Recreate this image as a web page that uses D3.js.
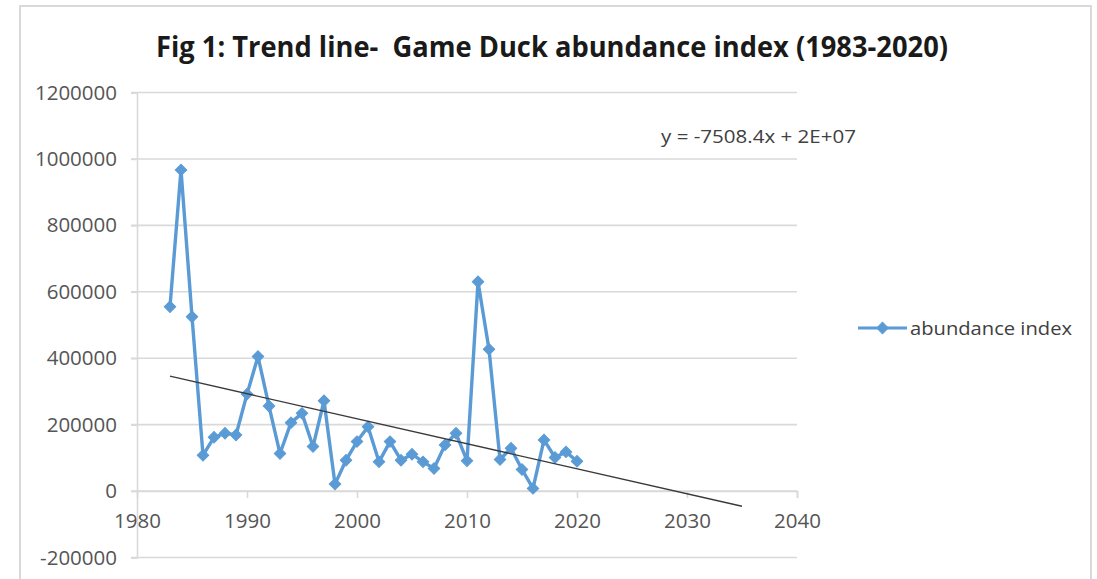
<!DOCTYPE html>
<html>
<head>
<meta charset="utf-8">
<script src="https://cdn.jsdelivr.net/npm/d3@7/dist/d3.min.js"></script>
<style>
  html, body { margin: 0; padding: 0; background: #ffffff; }
  svg { display: block; }
  text { font-family: "Open Sans", "Liberation Sans", sans-serif; }
</style>
</head>
<body>
<svg id="chart" width="1097" height="579"></svg>
<script>
// ---------- data ----------
const years = [1983, 1984, 1985, 1986, 1987, 1988, 1989, 1990, 1991, 1992,
               1993, 1994, 1995, 1996, 1997, 1998, 1999, 2000, 2001, 2002,
               2003, 2004, 2005, 2006, 2007, 2008, 2009, 2010, 2011, 2012,
               2013, 2014, 2015, 2016, 2017, 2018, 2019, 2020];
const abundance = [555000, 967000, 525000, 108000, 162000, 174000, 169000, 292000, 405000, 256000,
                   113000, 206000, 234000, 134000, 272000, 21000, 93000, 149000, 194000, 88000,
                   149000, 93000, 111000, 88000, 68000, 139000, 174000, 91000, 630000, 427000,
                   95000, 129000, 65000, 8000, 154000, 101000, 118000, 90000];
const xTicks = [1980, 1990, 2000, 2010, 2020, 2030, 2040];
const yTicks = [-200000, 0, 200000, 400000, 600000, 800000, 1000000, 1200000];
const trendFrom = 1983, trendTo = 2035;
const titleText = "Fig 1: Trend line-  Game Duck abundance index (1983-2020)";
const equationText = "y = -7508.4x + 2E+07";
const seriesName = "abundance index";

// ---------- layout ----------
const svg = d3.select("#chart");
const plot = { left: 137, right: 797, top: 92.5, bottom: 557.5 };
const x = d3.scaleLinear().domain([1980, 2040]).range([plot.left, plot.right]);
const y = d3.scaleLinear().domain([-200000, 1200000]).range([plot.bottom, plot.top]);

const blue = "#5b9bd5";
const grid = "#d9d9d9";
const labelColor = "#555555";
const plainFmt = d => String(d);

// outer chart border
svg.append("rect")
  .attr("x", 20).attr("y", 6).attr("width", 1071).attr("height", 600)
  .attr("fill", "#fff").attr("stroke", grid).attr("stroke-width", 2);

// title
svg.append("text")
  .attr("x", 552).attr("y", 57)
  .attr("text-anchor", "middle")
  .attr("font-size", 29).attr("font-weight", 700)
  .attr("fill", "#1a1a1a")
  .style("white-space", "pre")
  .attr("xml:space", "preserve")
  .attr("textLength", 792).attr("lengthAdjust", "spacingAndGlyphs")
  .text(titleText);

// horizontal gridlines
svg.append("g").selectAll("line").data(yTicks).join("line")
  .attr("x1", plot.left - 6).attr("x2", plot.right)
  .attr("y1", d => y(d)).attr("y2", d => y(d))
  .attr("stroke", grid).attr("stroke-width", 1.6);

// y axis labels
const yAxis = d3.axisLeft(y).tickValues(yTicks).tickSize(6).tickPadding(14).tickFormat(plainFmt);
const gy = svg.append("g").attr("transform", `translate(${plot.left},0)`).call(yAxis);
gy.select(".domain").attr("stroke", grid).attr("stroke-width", 1.6);
gy.selectAll(".tick line").attr("stroke", grid).attr("stroke-width", 1.6);
gy.selectAll(".tick text")
  .attr("font-size", 20.5).attr("fill", labelColor)
  .style("font-family", "'Open Sans', sans-serif");

// x axis at y = 0
const xAxis = d3.axisBottom(x).tickValues(xTicks).tickSize(7).tickPadding(15).tickFormat(plainFmt);
const gx = svg.append("g").attr("transform", `translate(0,${y(0)})`).call(xAxis);
gx.select(".domain").attr("stroke", grid).attr("stroke-width", 1.6);
gx.selectAll(".tick line").attr("stroke", grid).attr("stroke-width", 1.6);
gx.selectAll(".tick text")
  .attr("font-size", 20.5).attr("fill", labelColor)
  .style("font-family", "'Open Sans', sans-serif");
gx.selectAll(".tick").filter(d => d === 1980).select("line").remove();

// data series
const pts = years.map((yr, i) => ({ yr, v: abundance[i] }));
svg.append("path")
  .datum(pts)
  .attr("fill", "none").attr("stroke", blue).attr("stroke-width", 3.4)
  .attr("stroke-linejoin", "round")
  .attr("d", d3.line().x(d => x(d.yr)).y(d => y(d.v)));

const diamond = d3.symbol().type(d3.symbolSquare).size(66);
svg.append("g").selectAll("path").data(pts).join("path")
  .attr("transform", d => `translate(${x(d.yr)},${y(d.v)}) rotate(45)`)
  .attr("d", diamond)
  .attr("fill", blue).attr("stroke", blue).attr("stroke-width", 1);

// least squares trend line (computed from the series)
const mx = d3.mean(years), my = d3.mean(abundance);
let sxy = 0, sxx = 0;
years.forEach((yr, i) => { sxy += (yr - mx) * (abundance[i] - my); sxx += (yr - mx) * (yr - mx); });
const slope = sxy / sxx, intercept = my - slope * mx;
svg.append("line")
  .attr("x1", x(trendFrom)).attr("y1", y(slope * trendFrom + intercept))
  .attr("x2", x(trendTo)).attr("y2", y(slope * trendTo + intercept))
  .attr("stroke", "#3a3a3a").attr("stroke-width", 1.3);

// equation label
svg.append("text")
  .attr("x", 661).attr("y", 143)
  .attr("font-size", 18).attr("fill", "#404040")
  .attr("textLength", 195).attr("lengthAdjust", "spacingAndGlyphs")
  .text(equationText);

// legend
const lg = svg.append("g").attr("transform", "translate(858,328)");
lg.append("line").attr("x1", 0).attr("x2", 49).attr("y1", 0).attr("y2", 0)
  .attr("stroke", blue).attr("stroke-width", 3);
lg.append("path").attr("transform", "translate(24.5,0) rotate(45)").attr("d", diamond)
  .attr("fill", blue).attr("stroke", blue);
lg.append("text").attr("x", 52).attr("y", 0).attr("dy", "0.35em")
  .attr("font-size", 19).attr("fill", "#404040")
  .attr("textLength", 162).attr("lengthAdjust", "spacingAndGlyphs")
  .text(seriesName);
</script>
</body>
</html>
